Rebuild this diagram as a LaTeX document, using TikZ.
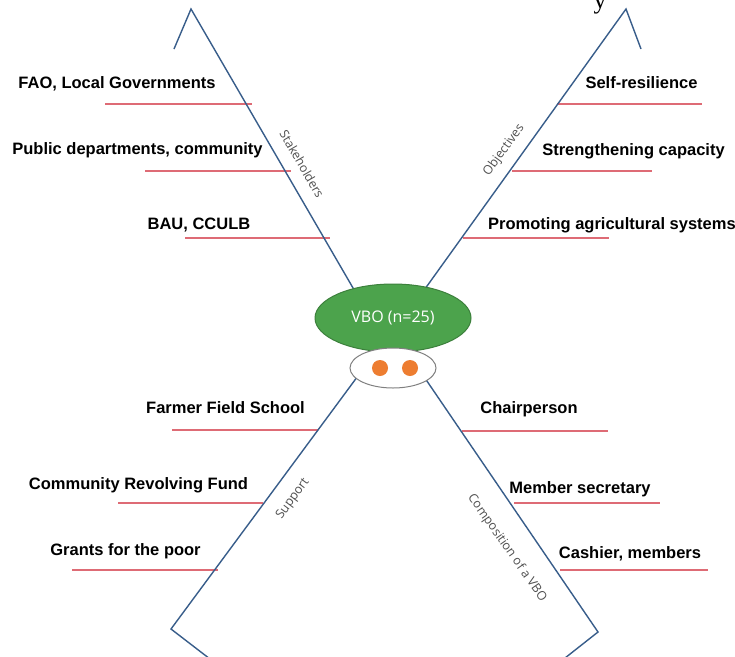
\documentclass[tikz,border=0pt]{standalone}
\usepackage{fontspec}
\setmainfont{Liberation Sans}
\newfontfamily\tagfont{Open Sans}
\newfontfamily\pagefont{Liberation Serif}
\usetikzlibrary{shapes.geometric}

\definecolor{bonecol}{RGB}{56,93,138}
\definecolor{ribcol}{RGB}{222,107,117}
\definecolor{vbogreen}{RGB}{76,163,76}
\definecolor{vboedge}{RGB}{60,128,60}
\definecolor{dotcol}{RGB}{237,125,49}
\definecolor{taggray}{RGB}{80,80,80}

\begin{document}
\begin{tikzpicture}[x=1pt,y=-1pt,
  bone/.style={draw=bonecol,line width=1.4pt},
  rib/.style={draw=ribcol,line width=2pt},
  item/.style={font=\fontsize{16.5}{18}\selectfont\bfseries,anchor=base,inner sep=0pt},
  axislabel/.style={font=\tagfont\fontsize{12.5}{14}\selectfont,text=taggray,inner sep=0pt}]
\fill[white] (0,0) rectangle (735,656);
\useasboundingbox (0,0) rectangle (735,656);

\coordinate (stkTip) at (191,9);
\coordinate (stkBarb) at (174,49);
\coordinate (stkEnd) at (360,300);
\coordinate (objTip) at (626,9);
\coordinate (objBarb) at (641,49);
\coordinate (objEnd) at (417,300);
\coordinate (supEnd) at (366,365);
\coordinate (supCorner) at (171,629);
\coordinate (supBarb) at (210,659);
\coordinate (cmpEnd) at (416,365);
\coordinate (cmpCorner) at (598,632);
\coordinate (cmpBarb) at (565,658);

% red ribs
\draw[rib] (105,104)--(252,104);
\draw[rib] (145,171)--(291,171);
\draw[rib] (185,238)--(330,238);
\draw[rib] (557,104)--(702,104);
\draw[rib] (512,171)--(652,171);
\draw[rib] (463,238)--(609,238);
\draw[rib] (172,430)--(318,430);
\draw[rib] (118,503)--(263,503);
\draw[rib] (72,570)--(218,570);
\draw[rib] (462,431)--(608,431);
\draw[rib] (514,503)--(660,503);
\draw[rib] (560,570)--(708,570);

% blue bones
\draw[bone] (stkBarb)--(stkTip)--(stkEnd);
\draw[bone] (objBarb)--(objTip)--(objEnd);
\draw[bone] (supEnd)--(supCorner)--(supBarb);
\draw[bone] (cmpEnd)--(cmpCorner)--(cmpBarb);

% head
\node[ellipse,draw=vboedge,fill=vbogreen,line width=1pt,minimum width=156,minimum height=68,
  text=white,font=\tagfont\fontsize{16}{18}\selectfont] (vbo) at (393,318) {VBO (n=25)};
\node[ellipse,draw=gray,fill=white,line width=1pt,minimum width=86,minimum height=40] (base) at (393,368) {};
\node[circle,fill=dotcol,minimum size=16,inner sep=0pt] (dotL) at (380,368) {};
\node[circle,fill=dotcol,minimum size=16,inner sep=0pt] (dotR) at (410,368) {};

% items
\node[item] (fao) at (117,88) {FAO, Local Governments};
\node[item] (pub) at (137.5,154) {Public departments, community};
\node[item] (bau) at (199,229) {BAU, CCULB};
\node[item] (self) at (641.5,88) {Self-resilience};
\node[item] (cap) at (633.5,155) {Strengthening capacity};
\node[item,anchor=base west] (agri) at (488,229) {Promoting agricultural systems};
\node[item] (ffs) at (225.5,413) {Farmer Field School};
\node[item] (crf) at (138.5,489) {Community Revolving Fund};
\node[item] (grant) at (125.5,555) {Grants for the poor};
\node[item] (chair) at (529,413) {Chairperson};
\node[item] (sec) at (580,493) {Member secretary};
\node[item] (cash) at (630,558) {Cashier, members};

% bone labels
\node[axislabel,rotate=-60] (stk) at (302,164) {Stakeholders};
\node[axislabel,rotate=54] (obj) at (504,150) {Objectives};
\node[axislabel,rotate=53.6] (sup) at (293,499) {Support};
\node[axislabel,rotate=-55] (cmp) at (507,548) {Composition of a VBO};

\node[font=\pagefont\fontsize{26}{28}\selectfont,anchor=base,inner sep=0pt] (cut) at (600,8) {y};
\end{tikzpicture}
\end{document}
